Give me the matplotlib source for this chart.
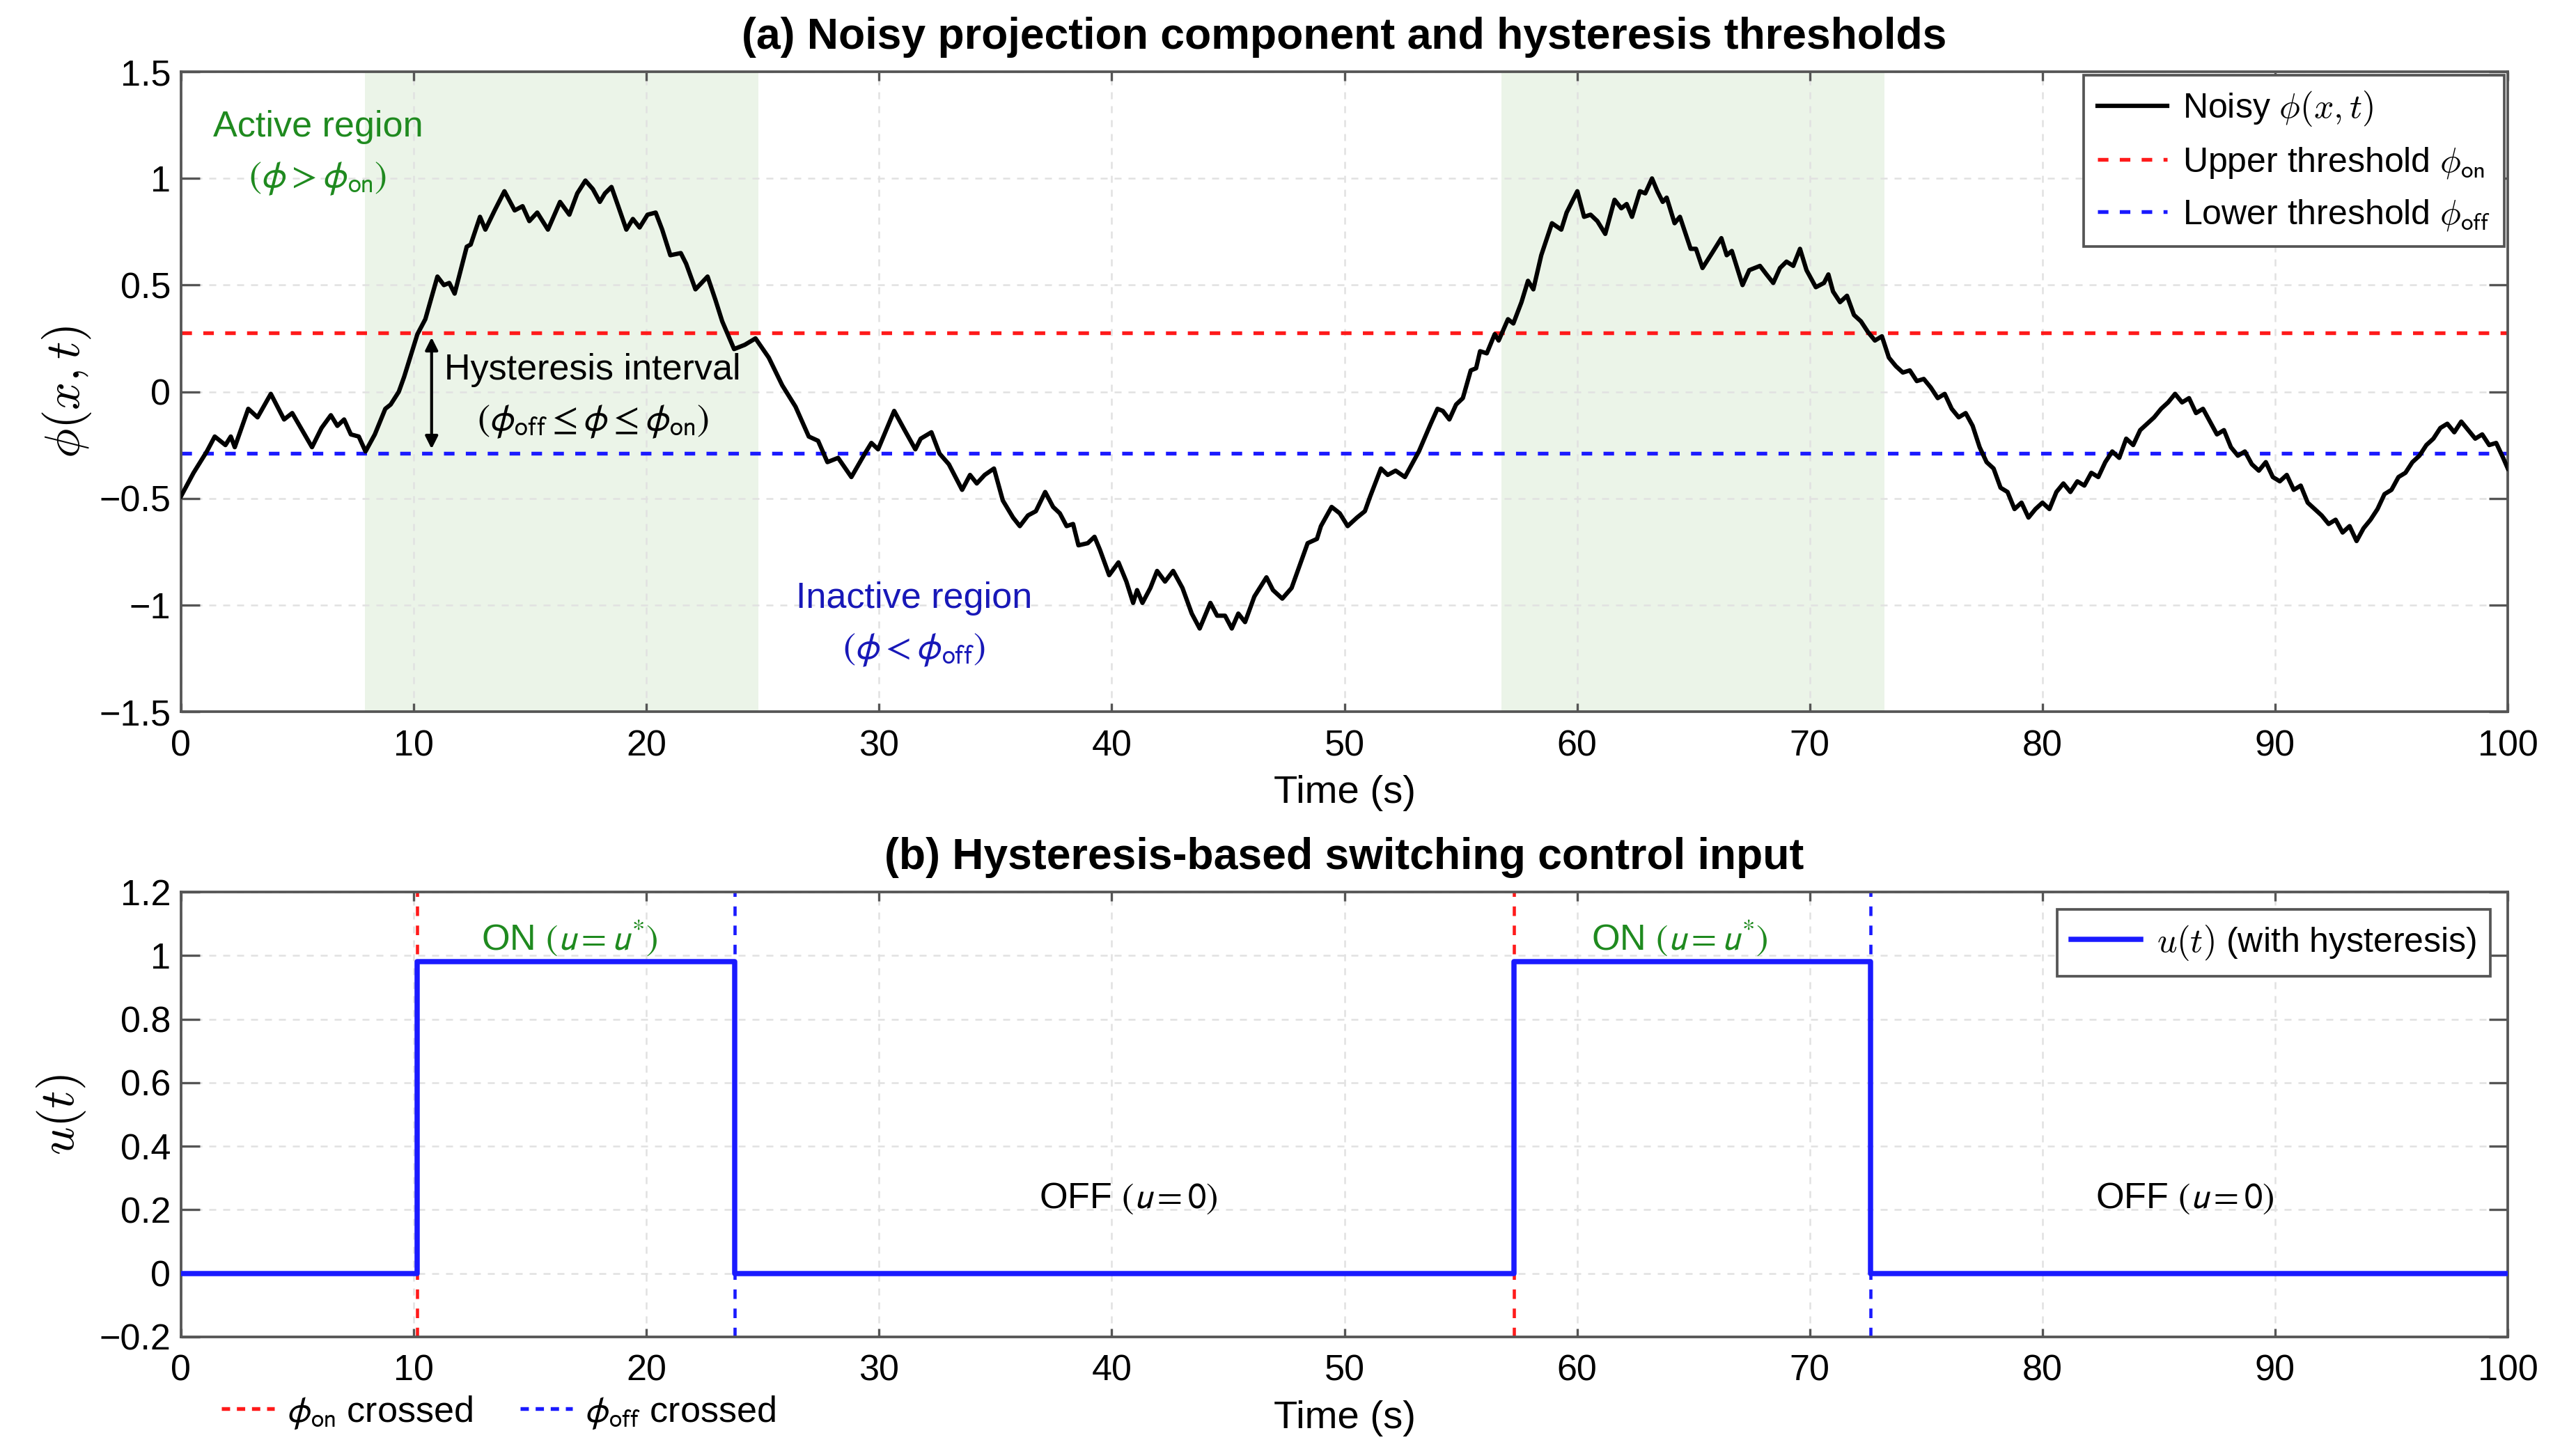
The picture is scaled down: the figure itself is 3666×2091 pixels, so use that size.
import matplotlib
matplotlib.use("Agg")
import matplotlib.pyplot as plt
from matplotlib.lines import Line2D
from matplotlib.ticker import FuncFormatter

plt.rcParams['font.family'] = ['Liberation Sans', 'DejaVu Sans']
plt.rcParams['mathtext.fontset'] = 'cm'

# noisy projection component
t_phi = [0.0, 0.54, 0.88, 1.11, 1.45, 1.91, 2.14, 2.31, 2.89, 3.29, 3.86, 4.43, 4.78, 5.63, 6.04,
         6.44, 6.72, 7.01, 7.30, 7.64, 7.93, 8.33, 8.78, 9.01, 9.36, 9.59, 10.16, 10.5, 11.02, 11.3,
         11.53, 11.76, 12.28, 12.45, 12.85, 13.08, 13.48, 13.9, 14.34, 14.68, 14.97, 15.31, 15.77,
         16.29, 16.69, 17.03, 17.38,
         17.7, 18.0, 18.22, 18.5, 18.79, 19.14, 19.42, 19.71, 20.05, 20.4, 20.68, 21.03, 21.48,
         21.71, 22.11, 22.63, 22.97, 23.26, 23.77, 24.23, 24.69, 25.26, 25.84, 26.41, 26.98, 27.38,
         27.78, 28.24, 28.81, 29.39, 29.67, 29.96, 30.65, 31.1, 31.56, 31.79, 32.25, 32.6, 33.0,
         33.57, 33.91, 34.2, 34.54, 34.94, 35.32,
         35.76, 36.05, 36.4, 36.74, 37.14, 37.48, 37.77, 38.06, 38.34, 38.57, 38.97, 39.26, 39.49,
         39.89, 40.29, 40.63, 40.92, 41.09, 41.32, 41.66, 41.95, 42.29, 42.64, 43.04, 43.44, 43.78,
         44.24, 44.53, 44.87, 45.16, 45.44, 45.73, 46.13, 46.65, 46.93, 47.33, 47.73, 48.42, 48.82,
         48.99, 49.45, 49.8, 50.14, 50.54, 50.88, 51.11, 51.57, 51.86, 52.2, 52.6,
         53.2, 53.71, 54.0, 54.23, 54.51, 54.8, 55.09, 55.43, 55.66, 55.83, 56.12, 56.46, 56.63,
         57.03, 57.26, 57.61, 57.89, 58.12, 58.46, 58.92, 59.32, 59.55, 60.01, 60.3, 60.58, 60.87,
         61.21, 61.61, 61.9, 62.13, 62.36, 62.7, 62.93, 63.22, 63.45, 63.68, 63.85, 64.19, 64.42,
         64.88, 65.11, 65.39, 65.8, 66.2, 66.43, 66.65, 67.11, 67.4, 67.86, 68.14, 68.43, 68.72,
         69.0, 69.29, 69.58, 69.86, 70.26, 70.61,
         70.8, 71.0, 71.3, 71.6, 71.9, 72.2, 72.5, 72.8, 73.1, 73.4, 73.7, 74.0, 74.3, 74.6, 74.9,
         75.2, 75.5, 75.8, 76.1, 76.4, 76.7, 77.0, 77.3, 77.6, 77.9, 78.2, 78.5, 78.8, 79.1, 79.4,
         79.7, 80.0, 80.3, 80.6, 80.9, 81.2, 81.5, 81.8, 82.1, 82.4, 82.7, 83.0, 83.3, 83.6, 83.9,
         84.2, 84.5, 84.8, 85.1, 85.4, 85.7, 86.0, 86.3, 86.6, 86.9, 87.2, 87.5, 87.8, 88.1, 88.4,
         88.7, 89.0, 89.3, 89.6, 89.9, 90.2, 90.5, 90.8, 91.1, 91.4, 91.7, 92.0, 92.3, 92.6, 92.9,
         93.2, 93.5, 93.8, 94.1, 94.4, 94.7, 95.0, 95.3, 95.6, 95.9, 96.2, 96.5, 96.8, 97.1, 97.4,
         97.7, 98.0, 98.3, 98.6, 98.9, 99.2, 99.5, 99.8, 100.0]
phi = [-0.49, -0.38, -0.32, -0.28, -0.21, -0.25, -0.21, -0.26, -0.08, -0.12, -0.01, -0.13, -0.10,
       -0.26, -0.17, -0.11, -0.16, -0.13, -0.20, -0.21, -0.28, -0.20, -0.08, -0.06, 0.0, 0.07, 0.27,
       0.34, 0.54, 0.50, 0.51, 0.46, 0.68, 0.69, 0.82, 0.76, 0.85, 0.94, 0.85, 0.87, 0.80, 0.84,
       0.76, 0.89, 0.83, 0.93, 0.99,
       0.95, 0.89, 0.93, 0.96, 0.87, 0.76, 0.81, 0.77, 0.83, 0.84, 0.76, 0.64, 0.65, 0.60, 0.48,
       0.54, 0.43, 0.33, 0.20, 0.22, 0.25, 0.16, 0.03, -0.07, -0.21, -0.23, -0.33, -0.31, -0.40,
       -0.29, -0.24, -0.27, -0.09, -0.18, -0.27, -0.22, -0.19, -0.29, -0.34, -0.46, -0.39, -0.43,
       -0.39, -0.36, -0.51,
       -0.59, -0.63, -0.58, -0.56, -0.47, -0.54, -0.57, -0.63, -0.62, -0.72, -0.71, -0.68, -0.74,
       -0.86, -0.80, -0.89, -0.99, -0.93, -0.99, -0.92, -0.84, -0.89, -0.84, -0.92, -1.04, -1.11,
       -0.99, -1.05, -1.05, -1.11, -1.04, -1.08, -0.96, -0.87, -0.93, -0.97, -0.92, -0.71, -0.69,
       -0.63, -0.54, -0.57, -0.63, -0.59, -0.56, -0.49, -0.36, -0.39, -0.37, -0.40,
       -0.28, -0.15, -0.08, -0.09, -0.13, -0.06, -0.03, 0.10, 0.11, 0.19, 0.18, 0.27, 0.24,
       0.34, 0.32, 0.42, 0.52, 0.48, 0.64, 0.79, 0.76, 0.84, 0.94, 0.82, 0.83, 0.80,
       0.74, 0.90, 0.86, 0.88, 0.82, 0.94, 0.93, 1.0, 0.94, 0.89, 0.91, 0.79, 0.82,
       0.67, 0.67, 0.58, 0.65, 0.72, 0.64, 0.66, 0.50, 0.57, 0.59, 0.55, 0.51, 0.58,
       0.61, 0.59, 0.67, 0.57, 0.49, 0.51,
       0.55, 0.47, 0.42, 0.45, 0.36, 0.33, 0.28, 0.24, 0.26, 0.16, 0.12, 0.09, 0.10, 0.05, 0.06,
       0.02, -0.03, -0.01, -0.08, -0.12, -0.10, -0.16, -0.26, -0.33, -0.36, -0.45, -0.47, -0.55,
       -0.52, -0.59, -0.55, -0.52, -0.55, -0.47, -0.43, -0.47, -0.42, -0.44, -0.38, -0.40, -0.33,
       -0.28, -0.31, -0.22, -0.25, -0.18, -0.15, -0.12, -0.08, -0.05, -0.01, -0.05, -0.03, -0.10,
       -0.08, -0.14, -0.20, -0.18, -0.26, -0.30, -0.28, -0.34, -0.37, -0.33, -0.40, -0.42, -0.39,
       -0.46, -0.44, -0.52, -0.55, -0.58, -0.62, -0.60, -0.66, -0.63, -0.70, -0.64, -0.60, -0.55,
       -0.48, -0.46, -0.40, -0.38, -0.33, -0.30, -0.25, -0.22, -0.17, -0.15, -0.19, -0.14, -0.18,
       -0.22, -0.20, -0.25, -0.24, -0.31, -0.36]

phi_on = 0.275
phi_off = -0.288
active_spans = [(7.9, 24.8), (56.75, 73.2)]

# switching control input, panel (b)
u_times = [0, 10.15, 23.8, 57.3, 72.6, 100]
u_levels = [0, 0.98, 0, 0.98, 0, 0]
on_times = [10.15, 57.3]
off_times = [23.8, 72.6]

fmt = FuncFormatter(lambda v, p: ('%g' % round(v, 2)).replace('-', '\u2212'))
GREEN = '#1f8a1f'
DARKBLUE = '#1818b8'
RED = '#ff1a1a'
BLUE = '#1a1aff'

fig = plt.figure(figsize=(12.22, 6.97), dpi=300)
ax1 = fig.add_axes([0.0709, 0.5112, 0.9114, 0.4395])
ax2 = fig.add_axes([0.0709, 0.0818, 0.9114, 0.3056])

for ax in (ax1, ax2):
    ax.set_xlim(0, 100)
    ax.set_xticks(range(0, 101, 10))
    ax.grid(True, color='#e1e1e1', linestyle=(0, (4, 4)), linewidth=0.6)
    ax.set_axisbelow(True)
    ax.tick_params(direction='in', top=True, right=True, labelsize=12.5, colors='#555555',
                   labelcolor='black', width=0.8)
    ax.tick_params(axis='y', length=6.5)
    ax.tick_params(axis='x', length=3, pad=6)
    ax.yaxis.set_major_formatter(fmt)
    for s in ax.spines.values():
        s.set_color('#555555')
        s.set_linewidth(0.9)
    ax.set_xlabel('Time (s)', fontsize=13.5, labelpad=4)

# panel (a)
for a, b in active_spans:
    ax1.axvspan(a, b, color='#ebf4e8', zorder=0, lw=0)
ax1.plot(t_phi, phi, color='black', lw=1.5, label=r'Noisy $\phi(x,t)$', zorder=3)
ax1.axhline(phi_on, color=RED, lw=1.3, dashes=(2.8, 3.0), label=r'Upper threshold $\phi_{\mathsf{on}}$', zorder=2)
ax1.axhline(phi_off, color=BLUE, lw=1.3, dashes=(2.8, 3.0), label=r'Lower threshold $\phi_{\mathsf{off}}$', zorder=2)
ax1.set_ylim(-1.5, 1.5)
ax1.set_yticks([-1.5, -1, -0.5, 0, 0.5, 1, 1.5])
ax1.set_ylabel(r'$\phi(x,t)$', fontsize=17, labelpad=2)
ax1.set_title('(a) Noisy projection component and hysteresis thresholds', fontsize=15,
              fontweight='bold', pad=8)
leg1 = ax1.legend(loc='upper right', fontsize=12, fancybox=False, edgecolor='#555555',
                  framealpha=1, borderaxespad=0.1, handlelength=2.0, handletextpad=0.45,
                  labelspacing=0.5)
leg1.get_frame().set_linewidth(0.9)

ax1.text(5.88, 1.24, 'Active region', color=GREEN, fontsize=12.5, ha='center', va='center')
ax1.text(5.88, 1.0, r'$(\phi > \phi_{\mathrm{on}})$', color=GREEN, fontsize=13, ha='center',
         va='center', math_fontfamily='stixsans')
ax1.annotate('', xy=(10.77, phi_on - 0.02), xytext=(10.77, phi_off + 0.02),
             arrowprops=dict(arrowstyle='<|-|>', color='black', lw=1.0, mutation_scale=9,
                             shrinkA=0, shrinkB=0))
ax1.text(17.7, 0.1, 'Hysteresis interval', fontsize=12.5, ha='center', va='center')
ax1.text(17.7, -0.14, r'$(\phi_{\mathrm{off}} \leq \phi \leq \phi_{\mathrm{on}})$', fontsize=13,
         ha='center', va='center', math_fontfamily='stixsans')
ax1.text(31.5, -0.97, 'Inactive region', color=DARKBLUE, fontsize=12.5, ha='center', va='center')
ax1.text(31.5, -1.21, r'$(\phi < \phi_{\mathrm{off}})$', color=DARKBLUE, fontsize=13,
         ha='center', va='center', math_fontfamily='stixsans')

# panel (b)
for tt in on_times:
    ax2.axvline(tt, color=RED, lw=1.1, dashes=(3, 3), zorder=2)
for tt in off_times:
    ax2.axvline(tt, color=BLUE, lw=1.1, dashes=(3, 3), zorder=2)
ax2.step(u_times, u_levels, where='post', color=BLUE, lw=1.8, zorder=3,
         label=r'$u(t)$ (with hysteresis)')
ax2.set_ylim(-0.2, 1.2)
ax2.set_yticks([-0.2, 0, 0.2, 0.4, 0.6, 0.8, 1, 1.2])
ax2.set_ylabel(r'$u(t)$', fontsize=17, labelpad=4)
ax2.set_title('(b) Hysteresis-based switching control input', fontsize=15,
              fontweight='bold', pad=8)
leg2 = ax2.legend(loc='upper right', fontsize=12, fancybox=False, edgecolor='#555555',
                  framealpha=1, handlelength=2.0, handletextpad=0.45)
leg2.get_frame().set_linewidth(0.9)

for x in (16.7, 64.4):
    ax2.text(x, 1.056, r'ON $(u = u^{*})$', color=GREEN, fontsize=12.5, ha='center',
             va='center', math_fontfamily='stixsans')
for x in (40.7, 86.1):
    ax2.text(x, 0.235, r'OFF $(u = 0)$', fontsize=12.5, ha='center', va='center',
             math_fontfamily='stixsans')

cross_handles = [Line2D([], [], color=RED, lw=1.3, dashes=(2.2, 1.8)),
                 Line2D([], [], color=BLUE, lw=1.3, dashes=(2.2, 1.8))]
leg3 = fig.legend(cross_handles, [r'$\phi_{\mathrm{on}}$ crossed', r'$\phi_{\mathrm{off}}$ crossed'],
                  loc='center left', bbox_to_anchor=(0.074, 0.030), ncol=2, frameon=False,
                  fontsize=12.5, handlelength=1.45, handletextpad=0.35, columnspacing=1.3)
for txt in leg3.get_texts():
    txt.set_math_fontfamily('stixsans')

fig.savefig('out.png', dpi=300)
